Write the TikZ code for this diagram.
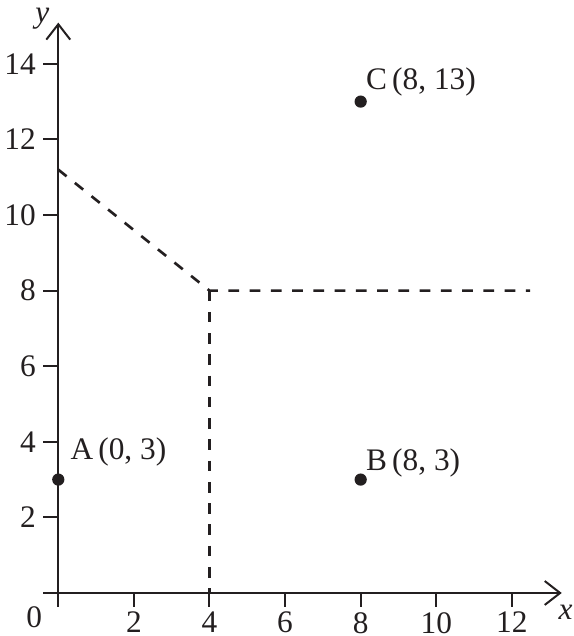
\documentclass[tikz,border=0pt]{standalone}
\usepackage{fontspec}
\setmainfont{Liberation Serif}
\usepackage{tikz}
\usetikzlibrary{arrows.meta,positioning,calc}
\definecolor{tinta}{RGB}{35,31,32}
\tikzset{
  eje/.style={draw=tinta, line width=0.75pt,
              -{Straight Barb[length=5.8pt,width=9pt,line width=0.75pt]}},
  marca/.style={draw=tinta, line width=0.75pt},
  bisec/.style={draw=tinta, line width=1pt, dash pattern=on 4pt off 4pt},
  punto/.style={circle, fill=tinta, inner sep=0pt, minimum size=4.6pt},
  etiq/.style={text=tinta, inner sep=0pt, font=\fontsize{11.8}{14}\selectfont}
}

\begin{document}
\begin{tikzpicture}[x=0.5cm, y=0.5cm, font=\fontsize{11.8}{14}\selectfont]
  \useasboundingbox (-1.542,-1.138) rectangle (13.643,15.688);
  % Ejes
  \coordinate (xo) at (-0.4,0);
  \coordinate (xf) at (13.32,0);
  \coordinate (yo) at (0,-0.37);
  \coordinate (yf) at (0,15.09);
  \draw[eje] (xo) -- (xf);
  \draw[eje] (yo) -- (yf);
  \node[etiq] (lx) at (13.42,-0.52) {\textit{x}};
  \node[etiq] (ly) at (-0.42,15.2) {\textit{y}};
  \node[etiq] (l0) at (-0.64,-0.64) {0};
  \foreach \v in {2,4,...,12}
    \draw[marca] (\v,0) -- (\v,-0.37) node[etiq, below=1.6pt] {\v};
  \foreach \v in {2,4,...,14}
    \draw[marca] (0,\v) -- (-0.4,\v) node[etiq, left=2.4pt] {\v};

  % Mediatrices
  \coordinate (M) at (4,8);
  \coordinate (mAC) at (0,11.2);
  \coordinate (mAB) at (4,0);
  \coordinate (mBC) at (12.48,8);
  \draw[bisec] (mAC) -- (M) -- (mBC);
  \draw[bisec] (M) -- (mAB);

  % Puntos
  \node[punto] (A) at (0,3) {};
  \node[punto] (B) at (8,3) {};
  \node[punto] (C) at (8,13) {};
  \node[etiq, anchor=west] (lA) at (0.31,3.72) {A\,(0, 3)};
  \node[etiq, anchor=west] (lB) at (8.13,3.45) {B\,(8, 3)};
  \node[etiq, anchor=west] (lC) at (8.13,13.52) {C\,(8, 13)};
\end{tikzpicture}
\end{document}
